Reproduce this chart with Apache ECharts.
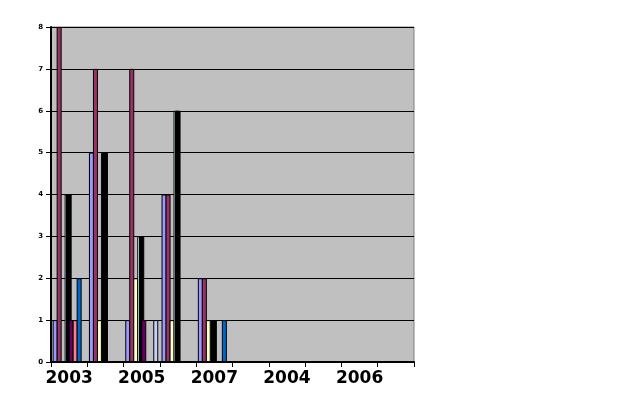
<!DOCTYPE html>
<html>
<head>
<meta charset="utf-8">
<script src="https://cdn.jsdelivr.net/npm/echarts@6/dist/echarts.min.js"></script>
<style>
html,body{margin:0;padding:0;background:#fff;}
#chart{width:617px;height:410px;}
</style>
</head>
<body>
<div id="chart"></div>
<script>
// ---- data ----
const categories = ['2003','2004','2005','2006','2007','2003','2004','2005','2006','2007'];
const series1 = [1, 5, 1, 4, 2, 0, 0, 0, 0, 0];
const series2 = [8, 7, 7, 4, 2, 0, 0, 0, 0, 0];
const series3 = [0, 1, 2, 1, 1, 0, 0, 0, 0, 0];
const series4 = [4, 5, 3, 6, 1, 0, 0, 0, 0, 0];
const series5 = [1, 0, 1, 0, 0, 0, 0, 0, 0, 0];
const series6 = [1, 0, 0, 0, 0, 0, 0, 0, 0, 0];
const series7 = [2, 0, 0, 0, 1, 0, 0, 0, 0, 0];
const series8 = [0, 0, 1, 0, 0, 0, 0, 0, 0, 0];
const yMin = 0, yMax = 8, yStep = 1;

const seriesValues = [series1, series2, series3, series4, series5, series6, series7, series8];
const seriesNames = ['Series1','Series2','Series3','Series4','Series5','Series6','Series7','Series8'];

const dGradient = new echarts.graphic.LinearGradient(0, 0, 1, 0, [
  {offset: 0, color: '#CCFFFF'},
  {offset: 0.25, color: '#CCFFFF'},
  {offset: 0.25, color: '#000000'},
  {offset: 1, color: '#000000'}
]);
const colors = ['#9999FF', '#993366', '#FFFFCC', dGradient, '#660066', '#FF8080', '#0066CC', '#CCCCFF'];

const chart = echarts.init(document.getElementById('chart'), null, {renderer: 'canvas'});

const series = seriesValues.map((vals, i) => {
  const s = {
    name: seriesNames[i],
    type: 'bar',
    data: vals,
    barWidth: 5,
    barGap: '-20%',
    itemStyle: {color: colors[i], borderColor: '#000', borderWidth: 1},
    emphasis: {disabled: true},
    animation: false
  };
  if (i === 3) {
    s.itemStyle.shadowColor = '#000';
    s.itemStyle.shadowOffsetX = 2;
    s.itemStyle.shadowBlur = 0;
  }
  return s;
});

chart.setOption({
  backgroundColor: '#ffffff',
  animation: false,
  grid: {
    left: 51, right: 203, top: 27, bottom: 48,
    show: true, backgroundColor: '#C0C0C0', borderColor: '#808080', borderWidth: 1
  },
  xAxis: {
    type: 'category',
    data: categories,
    boundaryGap: true,
    axisLine: {show: true, lineStyle: {color: '#000', width: 2}},
    axisTick: {show: true, interval: 0, length: 5, lineStyle: {color: '#000', width: 1}},
    axisLabel: {
      interval: 1, margin: 8, color: '#000',
      fontFamily: 'DejaVu Sans', fontWeight: 'bold', fontSize: 17
    },
    splitLine: {show: false}
  },
  yAxis: {
    type: 'value',
    min: yMin, max: yMax, interval: yStep,
    axisLine: {show: true, lineStyle: {color: '#000', width: 2}},
    axisTick: {show: true, length: 5, lineStyle: {color: '#000'}},
    axisLabel: {margin: 8, color: '#000', fontFamily: 'DejaVu Sans', fontWeight: 'bold', fontSize: 7},
    splitLine: {show: true, lineStyle: {color: '#000', width: 1}}
  },
  series: series
});
</script>
</body>
</html>
